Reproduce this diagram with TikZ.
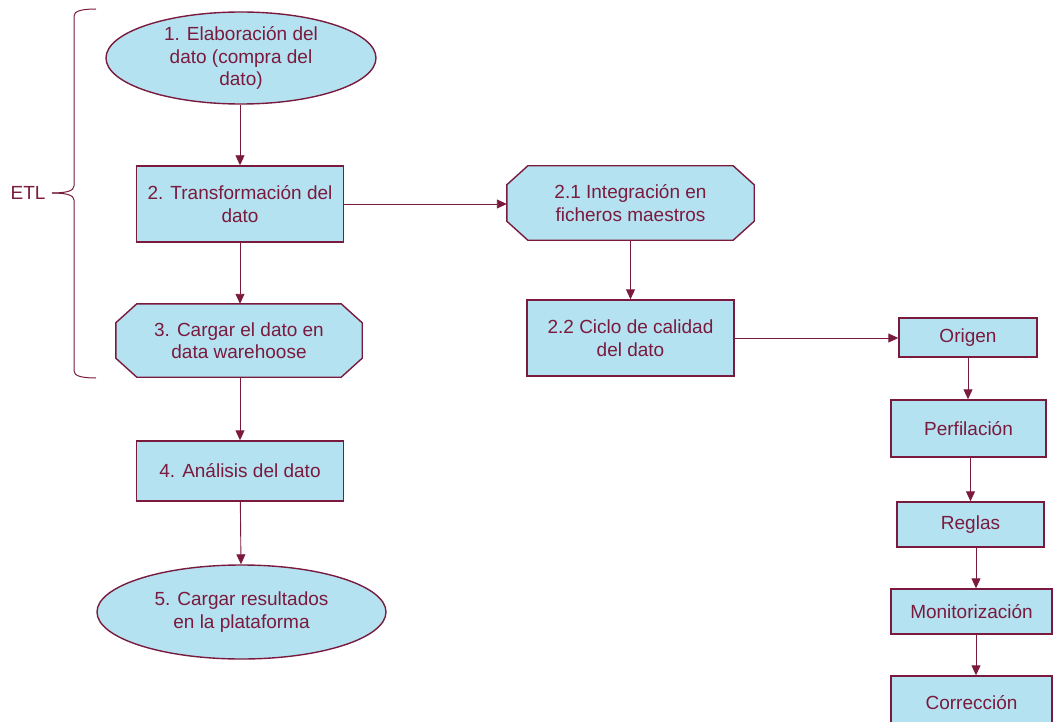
\documentclass[tikz,border=0pt]{standalone}
\usepackage{fontspec}
\setmainfont{Liberation Sans}
\usepackage{tikz}
\usetikzlibrary{shapes.geometric,arrows.meta,calc,backgrounds}
\definecolor{bordo}{RGB}{122,26,62}
\definecolor{celeste}{RGB}{180,226,240}
\tikzset{
    every node/.style={font=\fontsize{19}{22.5}\selectfont, text=bordo, align=center},
    caja/.style={rectangle, draw=bordo, fill=celeste, line width=1.4pt, inner sep=2pt},
    ovalo/.style={ellipse, draw=bordo, fill=celeste, line width=1.4pt, inner sep=0pt},
    octo/.style={rectangle, inner sep=0pt},
    flecha/.style={draw=bordo, line width=0.9pt, -{Triangle[length=10pt,width=9pt]}}
}
% contorno achaflanado detras de un nodo
\newcommand{\octogono}[1]{%
    \begin{pgfonlayer}{background}
        \draw [bordo, fill=celeste, line width=1.4pt]
            ($(#1.north west)+(21,0)$) -- ($(#1.north east)+(-21,0)$)
            -- ($(#1.north east)+(0,19)$) -- ($(#1.south east)+(0,-19)$)
            -- ($(#1.south east)+(-21,0)$) -- ($(#1.south west)+(21,0)$)
            -- ($(#1.south west)+(0,-19)$) -- ($(#1.north west)+(0,19)$) -- cycle;
    \end{pgfonlayer}}

\begin{document}
\begin{tikzpicture}[x=1pt, y=-1pt]
        \useasboundingbox (0,0) rectangle (1054,722);
        % columna principal
        \node [ovalo, minimum width=270pt, minimum height=92pt] (n1) at (241, 58) {1. Elaboración del\\dato (compra del\\dato)};
        \node [caja, minimum width=207pt, minimum height=76pt] (n2) at (240, 204) {2. Transformación del\\dato};
        \node [octo, minimum width=246pt, minimum height=73pt] (n3) at (239, 340.5) {3. Cargar el dato en\\data warehoose};
        \octogono{n3}
        \node [caja, minimum width=207pt, minimum height=60pt] (n4) at (240, 471) {4. Análisis del dato};
        \node [ovalo, minimum width=289pt, minimum height=94pt] (n5) at (241.5, 612) {5. Cargar resultados\\en la plataforma};
        % rama 2.x
        \node [octo, minimum width=247pt, minimum height=74pt] (n21) at (630.5, 203) {2.1 Integración en\\ficheros maestros};
        \octogono{n21}
        \node [caja, minimum width=207pt, minimum height=76pt] (n22) at (630.5, 338) {2.2 Ciclo de calidad\\del dato};
        % ciclo de calidad
        \node [caja, minimum width=138pt, minimum height=39pt] (origen) at (968, 337.5) {Origen};
        \node [caja, minimum width=155pt, minimum height=57pt] (perf) at (968.5, 428.5) {Perfilación};
        \node [caja, minimum width=147pt, minimum height=45pt] (reglas) at (970.5, 524.5) {Reglas};
        \node [caja, minimum width=161pt, minimum height=45pt] (monit) at (971.5, 611.5) {Monitorización};
        \node [caja, minimum width=161pt, minimum height=54pt] (corr) at (971.5, 703) {Corrección};
        % ETL
        \node (etl) at (28, 193) {ETL};
        \draw [bordo, line width=1pt] (96,9) .. controls (82,9) and (74,11) .. (74,16) -- (74,186)
            .. controls (74,191) and (66,193) .. (52,193);
        \draw [bordo, line width=1pt] (52,193) .. controls (66,193) and (74,195) .. (74,200) -- (74,371)
            .. controls (74,376) and (82,378) .. (96,378);
        % flechas
        \draw [flecha] (n1.south -| n2) -- (n2);
        \draw [flecha] (n2) -- (n2 |- n3.north);
        \draw [flecha] (n2 |- n3.south) -- (n4);
        \draw [flecha] (n4) -- (n5);
        \draw [flecha] (n2.east) -- (n2.east -| n21.west);
        \draw [flecha] (n21) -- (n22);
        \draw [flecha] (n22.east) -- (n22.east -| origen.west);
        \draw [flecha] (origen.south) -- (origen.south |- perf.north);
        \draw [flecha] (perf.south -| reglas) -- (reglas.north);
        \draw [flecha] (reglas.south -| 976,0) -- (monit.north -| 976,0);
        \draw [flecha] (monit.south -| 976,0) -- (corr.north -| 976,0);
    \end{tikzpicture}
\end{document}
